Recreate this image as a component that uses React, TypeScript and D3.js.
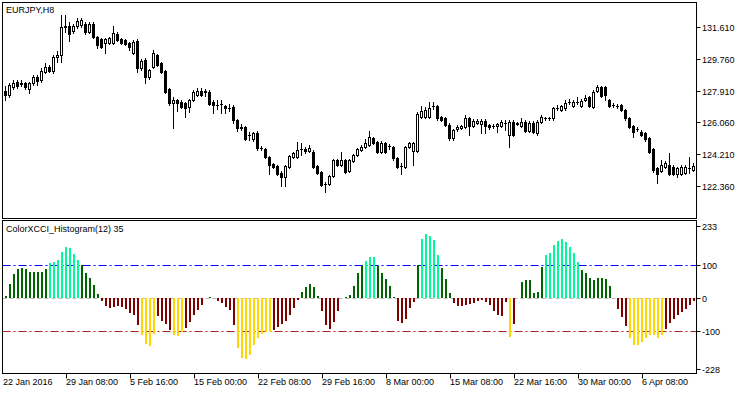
import React from "react";
import * as d3 from "d3";

// ---------- data (EURJPY H8 candles, index 0 = first visible bar) ----------
const open = [127.90,127.65,128.10,128.42,128.32,128.33,127.98,128.33,128.68,128.52,129.01,129.30,129.05,129.85,129.98,131.63,131.67,131.39,131.67,131.73,131.78,131.32,131.78,131.01,130.89,130.66,130.66,130.70,131.20,130.89,130.85,130.66,130.11,130.81,129.21,129.69,128.68,129.30,129.98,129.50,129.07,127.98,127.17,127.36,127.26,127.17,126.97,127.36,127.65,127.90,127.84,127.84,127.26,127.07,127.13,127.01,126.88,126.95,126.20,125.75,125.77,125.33,125.07,125.46,124.55,124.49,124.06,123.63,123.52,123.13,122.90,123.48,124.03,124.06,124.49,124.49,124.41,124.35,123.52,123.19,122.47,122.47,122.94,123.87,123.58,123.87,123.25,123.83,124.16,124.45,124.64,124.74,125.13,124.93,124.35,124.84,124.68,124.61,123.97,123.52,123.45,124.61,124.41,124.41,126.39,126.39,126.39,127.01,127.01,126.35,126.30,125.91,125.13,125.66,125.71,125.81,126.30,125.85,126.01,125.97,126.16,125.91,125.85,125.85,125.85,126.04,125.32,126.10,125.99,125.85,126.10,125.57,126.04,125.42,126.10,126.30,126.30,126.30,126.90,126.78,126.88,127.26,127.01,127.26,127.01,127.36,127.55,126.94,127.90,128.10,128.10,127.36,127.08,127.01,127.07,126.78,126.30,125.85,125.66,125.52,125.42,125.13,124.49,123.39,123.25,123.48,123.58,123.48,123.05,123.05,123.13,123.38,123.29];
const high = [128.17,128.37,128.52,128.52,128.52,128.41,128.42,128.82,128.82,129.21,129.53,129.40,129.98,130.23,132.31,132.31,131.92,131.78,132.11,132.13,131.90,131.92,131.90,131.08,130.95,130.96,131.02,131.67,131.30,130.95,130.92,130.75,130.85,130.90,129.75,129.80,129.18,130.27,130.06,129.58,129.12,128.05,127.55,127.45,127.35,127.25,127.45,127.92,128.06,128.06,128.00,127.95,127.35,127.36,127.36,127.10,127.13,127.05,126.27,125.96,125.85,125.52,125.52,125.55,124.68,124.58,124.12,123.72,123.60,123.22,123.60,124.18,124.33,124.93,124.87,124.60,124.72,124.45,123.60,123.25,122.59,123.00,123.95,123.95,124.35,123.95,123.95,124.25,124.57,124.72,125.07,125.57,125.22,125.00,124.98,124.92,124.80,124.70,124.05,123.70,124.70,124.92,124.93,126.65,127.01,126.97,127.26,127.26,127.10,126.42,126.38,126.00,125.70,125.88,125.92,126.49,126.38,126.25,126.25,126.25,126.25,125.98,125.95,126.04,126.18,126.20,126.18,126.18,126.10,126.30,126.18,126.12,126.12,126.18,126.49,126.40,126.40,126.98,127.07,127.10,127.36,127.42,127.34,127.55,127.40,127.65,127.62,127.92,128.23,128.18,128.18,127.45,127.20,127.13,127.15,126.86,126.38,125.92,125.78,125.60,125.50,125.20,124.56,123.46,123.87,123.80,124.26,123.56,123.46,123.56,123.56,124.06,123.70];
const low = [127.36,127.55,127.98,128.04,128.17,128.00,127.78,128.23,128.23,128.42,128.91,128.99,128.91,129.59,129.59,131.34,130.81,131.28,131.55,131.63,131.20,131.25,130.95,130.39,130.39,130.10,130.60,130.64,130.78,130.62,130.55,130.27,130.04,129.01,129.10,128.35,128.60,129.22,129.33,128.92,127.78,127.07,125.75,126.74,126.88,126.37,126.68,127.30,127.58,127.58,127.60,127.05,126.60,126.84,126.62,126.60,126.72,126.04,125.57,125.62,125.04,125.04,125.00,124.48,124.45,123.97,123.04,123.40,122.99,122.35,122.35,123.40,123.96,124.00,124.16,124.30,124.33,123.40,123.05,122.36,122.02,122.40,122.88,123.52,123.52,123.10,123.18,123.75,124.10,124.38,124.57,124.68,124.80,124.28,124.28,124.28,124.51,123.90,123.39,123.05,123.38,124.55,123.58,124.35,126.30,126.30,126.30,126.84,126.22,126.12,125.85,125.05,125.05,125.58,125.65,125.75,125.32,125.78,125.95,125.44,125.46,125.70,125.75,125.52,125.78,125.62,124.61,125.25,125.90,125.78,125.50,125.50,125.45,125.32,126.02,126.22,126.20,126.22,126.78,126.70,126.80,127.13,126.94,127.13,126.94,127.30,126.94,126.88,127.84,127.52,127.36,126.94,126.95,126.90,126.70,126.22,125.74,125.23,125.55,125.25,125.00,124.28,123.19,122.51,123.18,123.40,122.98,122.98,122.86,122.98,123.05,123.09,123.22];
const close = [127.65,128.23,128.37,128.17,128.33,128.10,128.37,128.72,128.48,129.07,129.30,129.07,129.88,129.98,131.63,131.66,131.20,131.67,131.97,132.02,131.30,131.80,131.01,130.56,130.46,130.89,130.95,131.24,130.85,130.70,130.62,130.46,130.75,129.21,129.65,128.72,129.11,130.08,129.40,129.01,127.84,127.17,127.36,127.17,126.97,126.88,127.36,127.84,127.90,127.65,127.86,127.13,127.07,127.08,127.12,126.88,126.89,126.20,125.71,125.77,125.09,125.32,125.46,124.55,124.56,124.06,123.58,123.48,123.05,122.90,123.52,124.10,124.26,124.45,124.50,124.41,124.55,123.48,123.13,122.42,122.48,122.94,123.87,123.58,123.87,123.19,123.87,124.16,124.49,124.64,124.84,125.19,124.87,124.35,124.87,124.35,124.69,123.97,123.48,123.53,124.61,124.84,124.84,126.55,126.74,126.78,126.88,127.02,126.30,126.20,125.91,125.13,125.62,125.81,125.85,126.30,125.85,126.16,126.16,126.16,125.85,125.77,125.86,125.97,126.10,126.05,126.10,125.32,126.00,126.10,125.57,126.04,125.52,126.10,126.35,126.31,126.29,126.90,126.91,127.01,127.20,127.27,127.26,127.27,127.32,127.46,127.01,127.84,128.13,127.60,127.65,127.01,127.07,127.02,126.78,126.30,125.81,125.52,125.67,125.33,125.07,124.35,123.29,123.05,123.58,123.71,123.05,123.05,123.38,123.48,123.48,123.39,123.52];
const cci = [6,42,72,87,92,89,78,78,78,80,88,105,108,114,138,153,150,132,114,99,75,60,39,12,-8,-23,-31,-26,-23,-26,-32,-44,-50,-83,-113,-139,-146,-110,-55,-71,-80,-98,-113,-116,-104,-92,-74,-50,-35,-20,-1,3,0,-8,-14,-26,-35,-83,-152,-181,-185,-173,-143,-122,-110,-104,-102,-98,-89,-80,-71,-50,-29,-5,18,34,42,34,6,-38,-83,-95,-74,-38,0,3,9,36,75,99,111,123,123,96,75,57,36,4,-69,-77,-65,-29,-11,99,179,194,188,176,130,92,58,15,-14,-23,-23,-20,-17,-14,-9,-6,-12,-20,-38,-50,-56,-11,-119,-80,0,48,54,54,15,18,93,129,135,159,171,177,168,153,135,108,84,75,60,54,60,60,57,36,0,-32,-59,-86,-122,-143,-143,-134,-122,-113,-113,-122,-113,-95,-77,-65,-50,-41,-32,-20,-8];

const priceTicks = [131.61, 129.76, 127.91, 126.06, 124.21, 122.36];
const cciTicks = [233, 100, 0, -100, -228];
const cciLevels = [100, 0, -100];
const firstDateLabel = "22 Jan 2016";
const dateLabels = ["29 Jan 08:00", "5 Feb 16:00", "15 Feb 00:00", "22 Feb 08:00", "29 Feb 16:00", "8 Mar 00:00", "15 Mar 08:00", "22 Mar 16:00", "30 Mar 00:00", "6 Apr 08:00"];
const dateLabelIdx = [15, 31, 47, 63, 79, 95, 111, 127, 143, 159];
const symbolTitle = "EURJPY,H8";
const indicatorTitle = "ColorXCCI_Histogram(12) 35";

// ---------- layout ----------
const W = 750, H = 394;
const L = 2.5, R = 696.5;
const P1T = 2.5, P1B = 218.5, P2T = 220.5, P2B = 373.5;
const FONT = "'Liberation Sans', Arial, sans-serif";

function cciColor(v: number) {
  if (v > 100) return "#00FA9A";
  if (v > 0) return "#006400";
  if (v < -100) return "#FFD700";
  if (v < 0) return "#800000";
  return "#a0a0a0";
}

export default function App() {
  const N = close.length;
  const x = d3.scaleLinear().domain([0, N - 1]).range([5, 5 + 4 * (N - 1)]);
  const yP = d3.scaleLinear().domain([122.36, 131.61]).range([186, 27]);
  const yC = d3.scaleLinear().domain([-227, 236]).range([373, 220]);
  const fmtP = d3.format(".3f");

  const candles = d3.range(N).map((i) => {
    const cx = x(i) + 0.5;
    const o = open[i], c = close[i];
    const hi = Math.max(high[i], o, c), lo = Math.min(low[i], o, c);
    const yo = Math.round(yP(o)), yc = Math.round(yP(c));
    const top = Math.min(yo, yc), bot = Math.max(yo, yc);
    const wick = <line key={"w" + i} x1={cx} x2={cx} y1={Math.round(yP(hi))} y2={Math.round(yP(lo)) + 1} stroke="#000" strokeWidth={1} />;
    let body;
    if (bot - top < 1) {
      body = <line key={"b" + i} x1={cx - 1.5} x2={cx + 1.5} y1={top + 0.5} y2={top + 0.5} stroke="#000" strokeWidth={1} />;
    } else if (c > o) {
      body = <rect key={"b" + i} x={cx - 1} y={top + 0.5} width={2} height={bot - top} fill="#fff" stroke="#000" strokeWidth={1} />;
    } else {
      body = <rect key={"b" + i} x={cx - 1.5} y={top} width={3} height={bot - top + 1} fill="#000" />;
    }
    return <g key={"c" + i}>{wick}{body}</g>;
  });

  const zero = yC(0);
  const bars = cci.map((v, i) => {
    const yv = yC(v);
    const y0 = Math.round(Math.min(yv, zero));
    const y1 = Math.round(Math.max(yv, zero));
    if (y1 - y0 < 1) return null;
    return <rect key={"h" + i} x={x(i)} y={y0} width={2} height={y1 - y0} fill={cciColor(v)} />;
  });

  const levelStyle = (v: number) => {
    if (v > 0) return { stroke: "#0000FF", dash: "8,3,2,3" };
    if (v < 0) return { stroke: "#B22222", dash: "8,3,2,3" };
    return { stroke: "#b8b8b8", dash: "4,3" };
  };

  return (
    <svg width={W} height={H} style={{ position: "absolute", left: 0, top: 0, background: "#fff" }} fontFamily={FONT} fontSize={9}>
      <rect x={0} y={0} width={W} height={H} fill="#fff" />
      {/* level lines */}
      {cciLevels.map((v) => {
        const s = levelStyle(v);
        const yy = Math.round(yC(v)) + 0.5;
        return <line key={"lv" + v} x1={L} x2={R} y1={yy} y2={yy} stroke={s.stroke} strokeDasharray={s.dash} strokeWidth={1} />;
      })}
      {bars}
      {candles}
      {/* panel frames */}
      <rect x={L} y={P1T} width={R - L} height={P1B - P1T} fill="none" stroke="#000" strokeWidth={1} />
      <rect x={L} y={P2T} width={R - L} height={P2B - P2T} fill="none" stroke="#000" strokeWidth={1} />
      {/* titles */}
      <text x={6} y={13} fill="#000">{symbolTitle}</text>
      <text x={6} y={232} fill="#000">{indicatorTitle}</text>
      {/* price axis */}
      {priceTicks.map((p) => {
        const yy = Math.round(yP(p)) + 0.5;
        return (
          <g key={"pt" + p}>
            <line x1={R} x2={R + 4} y1={yy} y2={yy} stroke="#000" />
            <text x={702} y={yy + 3} fill="#000">{fmtP(p)}</text>
          </g>
        );
      })}
      {/* cci axis */}
      {cciTicks.map((v) => {
        const yy = Math.round(Math.min(Math.max(yC(v), P2T + 5), P2B - 5)) + 0.5;
        return (
          <g key={"ct" + v}>
            <line x1={R} x2={R + 4} y1={yy} y2={yy} stroke="#000" />
            <text x={702} y={yy + 3} fill="#000">{String(v)}</text>
          </g>
        );
      })}
      {/* time axis */}
      <text x={3} y={385} fill="#000">{firstDateLabel}</text>
      {dateLabels.map((lab, k) => {
        const xx = x(dateLabelIdx[k]) + 1.5;
        return (
          <g key={"dt" + k}>
            <line x1={xx} x2={xx} y1={P2B} y2={P2B + 5} stroke="#000" />
            <text x={xx - 0.5} y={385} fill="#000">{lab}</text>
          </g>
        );
      })}
    </svg>
  );
}
